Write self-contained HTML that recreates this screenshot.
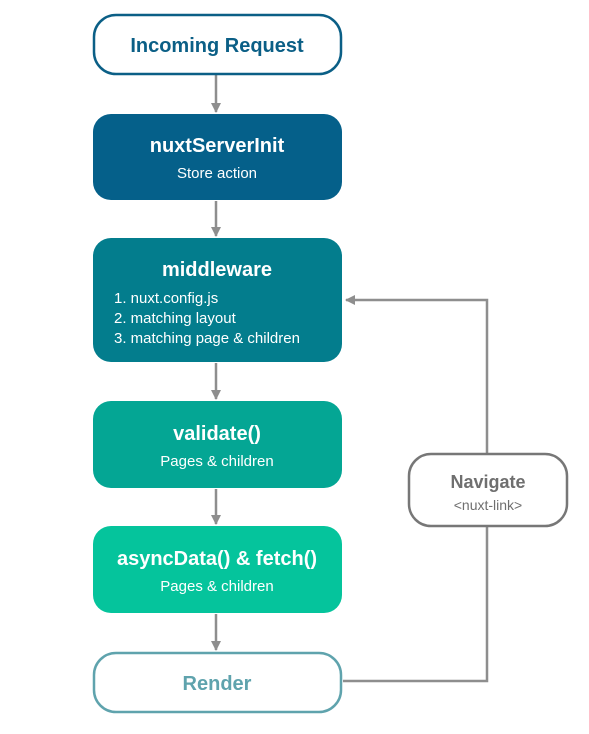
<!DOCTYPE html>
<html><head><style>
body{margin:0;background:#fff;width:589px;height:729px;overflow:hidden;font-family:"Liberation Sans",sans-serif}
</style></head><body>
<svg width="589" height="729" viewBox="0 0 589 729" xmlns="http://www.w3.org/2000/svg" font-family="Liberation Sans, sans-serif">
<defs><marker id="a" markerWidth="10" markerHeight="10" refX="9" refY="5" orient="auto" markerUnits="userSpaceOnUse"><path d="M0,0 L10,5 L0,10 z" fill="#8e8e8e"/></marker></defs>
<g stroke="#8e8e8e" stroke-width="2.5" fill="none">
<line x1="216" y1="75" x2="216" y2="112" marker-end="url(#a)"/>
<line x1="216" y1="201" x2="216" y2="236" marker-end="url(#a)"/>
<line x1="216" y1="363" x2="216" y2="399" marker-end="url(#a)"/>
<line x1="216" y1="489" x2="216" y2="524" marker-end="url(#a)"/>
<line x1="216" y1="614" x2="216" y2="650" marker-end="url(#a)"/>
<polyline points="343,681 487,681 487,527"/>
<polyline points="487,453 487,300 346,300" marker-end="url(#a)"/>
</g>
<rect x="94" y="15" width="247" height="59" rx="22" fill="#fff" stroke="#0b5f86" stroke-width="2.5"/>
<text x="217" y="52" text-anchor="middle" font-size="20" font-weight="bold" fill="#0b5f86">Incoming Request</text>
<rect x="93" y="114" width="249" height="86" rx="18" fill="#05608a"/>
<text x="217" y="152" text-anchor="middle" font-size="20" font-weight="bold" fill="#fff">nuxtServerInit</text>
<text x="217" y="178" text-anchor="middle" font-size="15" fill="#fff">Store action</text>
<rect x="93" y="238" width="249" height="124" rx="18" fill="#037d8d"/>
<text x="217" y="276" text-anchor="middle" font-size="20" font-weight="bold" fill="#fff">middleware</text>
<text x="114" y="303" font-size="15" fill="#fff">1. nuxt.config.js</text>
<text x="114" y="323" font-size="15" fill="#fff">2. matching layout</text>
<text x="114" y="343" font-size="15" fill="#fff">3. matching page &amp; children</text>
<rect x="93" y="401" width="249" height="87" rx="18" fill="#04a694"/>
<text x="217" y="440" text-anchor="middle" font-size="20" font-weight="bold" fill="#fff">validate()</text>
<text x="217" y="466" text-anchor="middle" font-size="15" fill="#fff">Pages &amp; children</text>
<rect x="93" y="526" width="249" height="87" rx="18" fill="#05c49c"/>
<text x="217" y="565" text-anchor="middle" font-size="20" font-weight="bold" fill="#fff">asyncData() &amp; fetch()</text>
<text x="217" y="591" text-anchor="middle" font-size="15" fill="#fff">Pages &amp; children</text>
<rect x="94" y="653" width="247" height="59" rx="22" fill="#fff" stroke="#5fa3ad" stroke-width="2.5"/>
<text x="217" y="690" text-anchor="middle" font-size="20" font-weight="bold" fill="#5fa3ad">Render</text>
<rect x="409" y="454" width="158" height="72" rx="22" fill="#fff" stroke="#777" stroke-width="2.5"/>
<text x="488" y="488" text-anchor="middle" font-size="18" font-weight="bold" fill="#6f6f6f">Navigate</text>
<text x="488" y="510" text-anchor="middle" font-size="14" fill="#6f6f6f">&lt;nuxt-link&gt;</text>
</svg>
</body></html>
